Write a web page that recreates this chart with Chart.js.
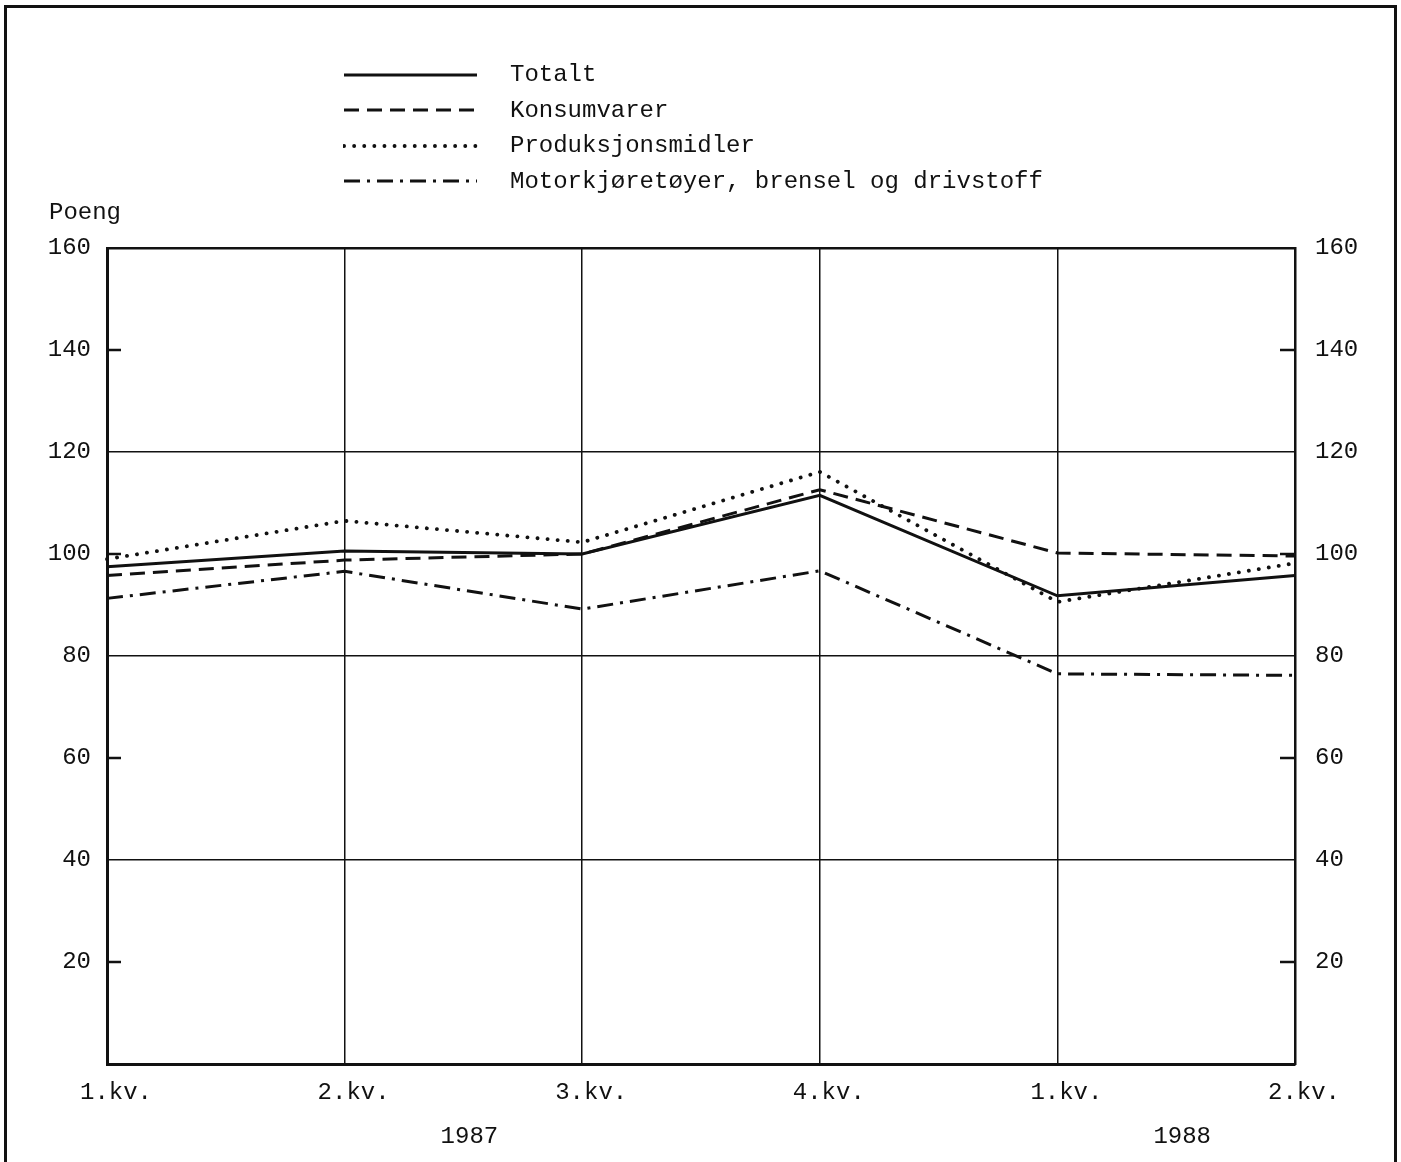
<!DOCTYPE html>
<html>
<head>
<meta charset="utf-8">
<script src="https://cdn.jsdelivr.net/npm/chart.js@4/dist/chart.umd.min.js"></script>
<style>
  html, body { margin: 0; padding: 0; background: #fff; }
  body { width: 1401px; height: 1162px; position: relative; overflow: hidden; font-family: "Liberation Mono", monospace; color: #111; }
  #frame { position: absolute; left: 4px; top: 5px; width: 1387px; height: 1200px; border: 3px solid #111; }
  #chart-canvas { position: absolute; left: 0; top: 0; }
  #legend { position: absolute; left: 343px; top: 57px; }
  .row { height: 35.5px; display: flex; align-items: center; font-size: 24px; white-space: pre; }
  .row svg { width: 135px; height: 8px; margin-right: 32px; }
  #unit { position: absolute; left: 49px; top: 199px; font-size: 24px; }
</style>
</head>
<body>
<div id="frame"></div>
<canvas id="chart-canvas" width="1401" height="1162"></canvas>
<div id="legend"></div>
<div id="unit">Poeng</div>
<script>
// data
const quarters = ['1.kv.', '2.kv.', '3.kv.', '4.kv.', '1.kv.', '2.kv.'];
const years = ['1987', '1988'];
const yearSpans = [[0, 3], [4, 5]];

const totalt = [97.5, 100.6, 100, 111.5, 91.8, 95.8];
const konsumvarer = [95.8, 98.8, 100, 112.6, 100.2, 99.6];
const produksjonsmidler = [99, 106.5, 102.3, 116.1, 90.6, 98.2];
const motor = [91.3, 96.6, 89.2, 96.7, 76.5, 76.2];

const seriesNames = ['Totalt', 'Konsumvarer', 'Produksjonsmidler', 'Motorkjøretøyer, brensel og drivstoff'];

const majorLines = [40, 80, 120, 160];   // full grid lines
const minorTicks = [20, 60, 100, 140];   // short inward ticks

const ink = '#111';

const styles = [
    { dash: [], width: 3, cap: 'butt' },
    { dash: [15, 8], width: 3, cap: 'butt' },
    { dash: [0.1, 10], width: 3.8, cap: 'round' },
    { dash: [16, 7, 3, 7], width: 3, cap: 'butt' }
];

const allSeries = [totalt, konsumvarer, produksjonsmidler, motor];

let datasets = allSeries.map((values, i) => ({
    label: seriesNames[i],
    data: values,
    borderColor: ink,
    borderWidth: styles[i].width,
    borderDash: styles[i].dash,
    borderCapStyle: styles[i].cap,
    borderJoinStyle: 'miter',
    pointRadius: 0,
    tension: 0,
    fill: false
}));

// legend built in html, same styles
let legendEl = document.getElementById('legend');
seriesNames.forEach((name, i) => {
    let row = document.createElement('div');
    row.className = 'row';
    let dash = styles[i].dash.length ? styles[i].dash.join(' ') : 'none';
    row.innerHTML = `<svg viewBox="0 0 135 8"><line x1="1" y1="4" x2="134" y2="4" stroke="${ink}" stroke-width="${styles[i].width}" stroke-dasharray="${dash}" stroke-linecap="${styles[i].cap}"/></svg>`;
    let span = document.createElement('span');
    span.textContent = name;
    row.appendChild(span);
    legendEl.appendChild(row);
});

const extras = {
    id: 'extras',
    afterDatasetsDraw(chart) {
        const { ctx, chartArea } = chart;
        const x = chart.scales.x;
        const y = chart.scales.y;
        ctx.save();
        ctx.strokeStyle = ink;
        ctx.lineWidth = 2.5;
        minorTicks.forEach(v => {
            let py = y.getPixelForValue(v);
            ctx.beginPath();
            ctx.moveTo(chartArea.left, py);
            ctx.lineTo(chartArea.left + 14, py);
            ctx.moveTo(chartArea.right - 15, py);
            ctx.lineTo(chartArea.right, py);
            ctx.stroke();
        });
        ctx.fillStyle = ink;
        ctx.font = '24px "Liberation Mono"';
        ctx.textAlign = 'center';
        ctx.textBaseline = 'middle';
        years.forEach((yr, i) => {
            let px = (x.getPixelForValue(yearSpans[i][0]) + x.getPixelForValue(yearSpans[i][1])) / 2;
            ctx.fillText(yr, px + 6, chartArea.bottom + 73);
        });
        ctx.restore();
    }
};

const tickFont = { family: 'Liberation Mono', size: 24 };

new Chart(document.getElementById('chart-canvas'), {
    type: 'line',
    data: { labels: quarters, datasets: datasets },
    options: {
        responsive: false,
        animation: false,
        layout: { padding: { top: 248, left: 0, right: 0, bottom: 0 } },
        plugins: {
            legend: { display: false },
            tooltip: { enabled: false }
        },
        scales: {
            x: {
                offset: false,
                grid: { color: ink, lineWidth: 1.5, drawTicks: false },
                border: { color: ink, width: 3 },
                ticks: { color: ink, font: tickFont, padding: 14, labelOffset: 9, maxRotation: 0, autoSkip: false },
                afterFit: s => { s.height = 98; }
            },
            y: {
                position: 'left',
                min: 0,
                max: 160,
                grid: {
                    drawTicks: false,
                    color: c => majorLines.includes(c.tick.value) ? ink : 'rgba(0,0,0,0)',
                    lineWidth: c => c.tick.value === 160 ? 2.5 : 1.5
                },
                border: { color: ink, width: 3 },
                ticks: {
                    stepSize: 20,
                    color: ink,
                    font: tickFont,
                    padding: 16,
                    callback: v => v === 0 ? '' : v
                },
                afterFit: s => { s.width = 107; }
            },
            y2: {
                position: 'right',
                min: 0,
                max: 160,
                grid: { display: false, drawTicks: false },
                border: { color: ink, width: 2.5 },
                ticks: {
                    stepSize: 20,
                    color: ink,
                    font: tickFont,
                    padding: 20,
                    callback: v => v === 0 ? '' : v
                },
                afterFit: s => { s.width = 106; }
            }
        }
    },
    plugins: [extras]
});
</script>
</body>
</html>
